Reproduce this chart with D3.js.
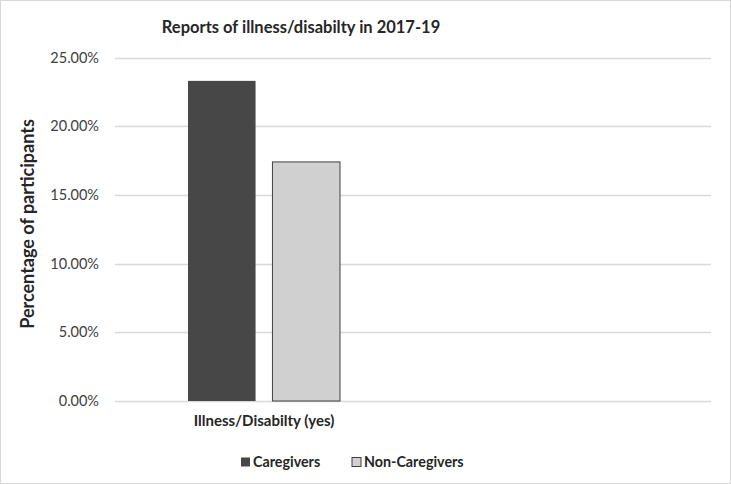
<!DOCTYPE html>
<html>
<head>
<meta charset="utf-8">
<script src="https://cdn.jsdelivr.net/npm/d3@7"></script>
<style>
  body { margin: 0; background: #fff; }
  text { font-family: Lato, "Open Sans", sans-serif; fill: #262626; }
</style>
</head>
<body>
<svg width="731" height="484"></svg>
<script>
// data
var categories = ["Illness/Disabilty (yes)", ""];
var seriesNames = ["Caregivers", "Non-Caregivers"];
var caregivers = [23.3, null];
var nonCaregivers = [17.4, null];
var yTicks = [0, 5, 10, 15, 20, 25];
var colors = ["#474747", "#d0d0d0"];

var svg = d3.select("svg"),
    width = +svg.attr("width"),
    height = +svg.attr("height");

var margin = { left: 115, right: 20, top: 57.5, bottom: 83 };

svg.append("rect")
    .attr("x", 0.5).attr("y", 0.5)
    .attr("width", width - 1).attr("height", height - 1)
    .attr("fill", "#fff")
    .attr("stroke", "#d9d9d9");

var x = d3.scaleBand()
    .domain(categories.map(function(d, i) { return i; }))
    .range([margin.left, width - margin.right])
    .paddingInner(0)
    .paddingOuter(0);

var inner = d3.scaleBand()
    .domain(seriesNames)
    .range([73, 225])
    .paddingInner(0.2);

var y = d3.scaleLinear()
    .domain([0, 25])
    .range([height - margin.bottom, margin.top]);

// gridlines
svg.append("g")
    .attr("class", "grid")
    .selectAll("line")
    .data(yTicks)
    .enter().append("line")
    .attr("x1", margin.left)
    .attr("x2", width - margin.right)
    .attr("y1", function(d) { return Math.round(y(d)) + 0.5; })
    .attr("y2", function(d) { return Math.round(y(d)) + 0.5; })
    .attr("stroke", "#d9d9d9")
    .attr("stroke-width", 1.3);

// y axis labels
var yAxis = d3.axisLeft(y)
    .tickValues(yTicks)
    .tickSize(0)
    .tickPadding(16)
    .tickFormat(function(d) { return d.toFixed(2) + "%"; });

var gy = svg.append("g")
    .attr("transform", "translate(" + margin.left + ",0)")
    .call(yAxis);
gy.select(".domain").remove();
gy.selectAll("text")
    .style("font-size", "14.5px")
    .style("font-family", "Lato, sans-serif")
    .style("fill", "#404040");

// bars
var rows = categories.map(function(c, i) {
    return [
        { cat: i, series: seriesNames[0], value: caregivers[i] },
        { cat: i, series: seriesNames[1], value: nonCaregivers[i] }
    ];
});

var groups = svg.append("g").selectAll("g")
    .data(rows)
    .enter().append("g")
    .attr("transform", function(d, i) { return "translate(" + x(i) + ",0)"; });

groups.selectAll("rect")
    .data(function(d) { return d.filter(function(e) { return e.value != null; }); })
    .enter().append("rect")
    .attr("x", function(d) { return inner(d.series); })
    .attr("width", inner.bandwidth())
    .attr("y", function(d) { return y(d.value); })
    .attr("height", function(d) { return y(0) - y(d.value); })
    .attr("fill", function(d, i) { return colors[seriesNames.indexOf(d.series)]; })
    .attr("stroke", function(d) { return d.series === "Non-Caregivers" ? "#404040" : "none"; })
    .attr("stroke-width", 1);

// category labels
svg.append("g").selectAll("text")
    .data(categories)
    .enter().append("text")
    .attr("x", function(d, i) { return x(i) + 149; })
    .attr("y", 426)
    .attr("text-anchor", "middle")
    .style("font-size", "15px")
    .style("font-weight", "bold")
    .text(function(d) { return d; });

// title
svg.append("text")
    .attr("x", 301)
    .attr("y", 33)
    .attr("text-anchor", "middle")
    .style("font-size", "16.5px")
    .style("font-weight", "bold")
    .text("Reports of illness/disabilty in 2017-19");

// y axis title
svg.append("text")
    .attr("transform", "translate(34,224) rotate(-90)")
    .attr("text-anchor", "middle")
    .style("font-size", "18px")
    .style("font-weight", "bold")
    .text("Percentage of participants");

// legend
var legendX = [241, 352];
var legend = svg.append("g").selectAll("g")
    .data(seriesNames)
    .enter().append("g")
    .attr("transform", function(d, i) { return "translate(" + legendX[i] + ",457.5)"; });

legend.append("rect")
    .attr("width", 9).attr("height", 9)
    .attr("fill", function(d, i) { return colors[i]; })
    .attr("stroke", function(d, i) { return i === 1 ? "#404040" : "none"; });

legend.append("text")
    .attr("x", 12)
    .attr("y", 9.5)
    .style("font-size", "14.3px")
    .style("font-weight", "bold")
    .text(function(d) { return d; });
</script>
</body>
</html>
